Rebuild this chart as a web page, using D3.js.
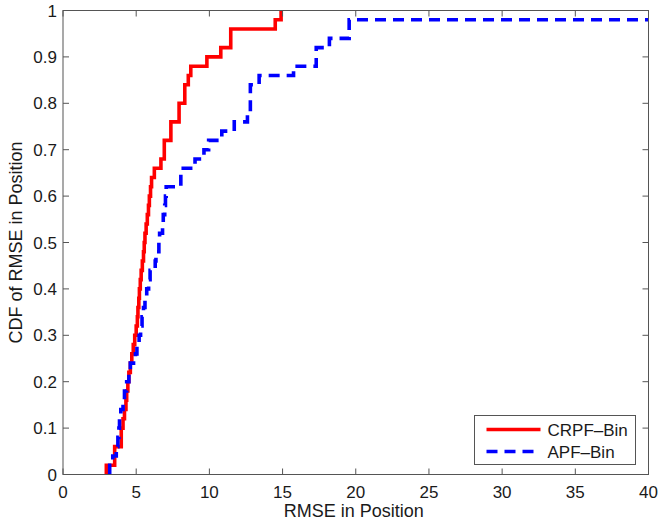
<!DOCTYPE html>
<html lang="en">
<head>
    <meta charset="UTF-8">
    <title>CDF of RMSE in Position</title>
    <script src="https://d3js.org/d3.v7.min.js"></script>
    <style>
        body { margin: 0; background: #fff; }
        text { font-family: "Liberation Sans", Arial, Helvetica, sans-serif; fill: #1a1a1a; }
        .frame line, .frame rect { stroke: #555; stroke-width: 1; }
    </style>
</head>
<body>
    <svg id="chart" width="658" height="522"></svg>

    <script>
        // step points of each empirical CDF (x = RMSE, p = cumulative fraction)
        const crpfX = [2.96, 3.53, 3.98, 4.1, 4.2, 4.3, 4.35, 4.43, 4.5, 4.6, 4.7, 4.8, 4.9, 5.0, 5.08,
                       5.12, 5.18, 5.22, 5.28, 5.34, 5.42, 5.5, 5.55, 5.6, 5.68, 5.76, 5.84, 5.9, 5.98, 6.05,
                       6.24, 6.69, 6.92, 7.37, 7.93, 8.32, 8.56, 8.73, 9.83, 10.78, 11.46, 14.5, 14.9];
        const crpfP = [0.02, 0.06, 0.10, 0.12, 0.14, 0.16, 0.18, 0.20, 0.22, 0.24, 0.26, 0.28, 0.30, 0.32, 0.34,
                       0.36, 0.38, 0.40, 0.42, 0.44, 0.46, 0.48, 0.50, 0.52, 0.54, 0.56, 0.58, 0.60, 0.62, 0.64,
                       0.66, 0.68, 0.72, 0.76, 0.80, 0.84, 0.86, 0.88, 0.90, 0.92, 0.96, 0.98, 1.00];

        const apfX = [3.19, 3.4, 3.64, 3.75, 3.82, 3.86, 3.95, 4.1, 4.2, 4.35, 4.5, 4.6, 4.95, 5.05, 5.2,
                      5.3, 5.4, 5.5, 5.6, 5.72, 5.85, 5.95, 6.3, 6.35, 6.55, 6.6, 6.8, 6.85, 6.95, 7.0,
                      7.05, 8.05, 9.02, 9.63, 9.95, 10.85, 11.7, 12.6, 12.8, 13.4, 15.75, 17.3, 18.2, 19.55, 40];
        const apfP = [0.02, 0.04, 0.06, 0.08, 0.10, 0.12, 0.14, 0.16, 0.18, 0.20, 0.22, 0.24, 0.26, 0.28, 0.30,
                      0.32, 0.34, 0.36, 0.38, 0.40, 0.42, 0.44, 0.46, 0.48, 0.50, 0.52, 0.54, 0.56, 0.58, 0.60,
                      0.62, 0.66, 0.68, 0.70, 0.72, 0.74, 0.76, 0.78, 0.84, 0.86, 0.88, 0.92, 0.94, 0.98, 0.98];

        const xTicks = [0, 5, 10, 15, 20, 25, 30, 35, 40];
        const yTicks = [0, 0.1, 0.2, 0.3, 0.4, 0.5, 0.6, 0.7, 0.8, 0.9, 1];

        const series = [
            { name: "CRPF\u2013Bin", xs: crpfX, ps: crpfP, color: "#ff0000", dash: null },
            { name: "APF\u2013Bin", xs: apfX, ps: apfP, color: "#0000ff", dash: "11,7" }
        ];

        const svg = d3.select("#chart");
        const plotL = 63, plotR = 648.5, plotT = 10.5, plotB = 474.5;

        const x = d3.scaleLinear().domain([0, 40]).range([plotL, plotR]);
        const y = d3.scaleLinear().domain([0, 1]).range([plotB, plotT]);

        // clip so the curves stay inside the box
        svg.append("defs").append("clipPath").attr("id", "clip")
            .append("rect")
            .attr("x", plotL).attr("y", plotT)
            .attr("width", plotR - plotL).attr("height", plotB - plotT);

        const line = d3.line()
            .x(d => x(d[0]))
            .y(d => y(d[1]))
            .curve(d3.curveStepAfter);

        const plot = svg.append("g").attr("clip-path", "url(#clip)");
        series.forEach(s => {
            const pts = [[s.xs[0], 0]].concat(s.xs.map((v, i) => [v, s.ps[i]]));
            plot.append("path")
                .attr("d", line(pts))
                .attr("fill", "none")
                .attr("stroke", s.color)
                .attr("stroke-width", 3.6)
                .attr("stroke-dasharray", s.dash);
        });

        // frame and ticks on all four sides (inward)
        const frame = svg.append("g").attr("class", "frame");
        frame.append("rect")
            .attr("x", plotL).attr("y", plotT)
            .attr("width", plotR - plotL).attr("height", plotB - plotT)
            .attr("fill", "none");

        const tickLen = 6;
        xTicks.forEach(t => {
            frame.append("line").attr("x1", x(t)).attr("x2", x(t)).attr("y1", plotB).attr("y2", plotB - tickLen);
            frame.append("line").attr("x1", x(t)).attr("x2", x(t)).attr("y1", plotT).attr("y2", plotT + tickLen);
            svg.append("text")
                .attr("x", x(t)).attr("y", plotB + 23)
                .attr("text-anchor", "middle")
                .style("font-size", "17px")
                .text(t);
        });
        yTicks.forEach(t => {
            frame.append("line").attr("x1", plotL).attr("x2", plotL + tickLen).attr("y1", y(t)).attr("y2", y(t));
            frame.append("line").attr("x1", plotR).attr("x2", plotR - tickLen).attr("y1", y(t)).attr("y2", y(t));
            svg.append("text")
                .attr("x", plotL - 6).attr("y", y(t) + 6)
                .attr("text-anchor", "end")
                .style("font-size", "17px")
                .text(t);
        });

        // axis titles
        svg.append("text")
            .attr("x", (plotL + plotR) / 2 - 2).attr("y", 517)
            .attr("text-anchor", "middle")
            .style("font-size", "18px")
            .text("RMSE in Position");

        svg.append("text")
            .attr("transform", `translate(22, ${(plotT + plotB) / 2}) rotate(-90)`)
            .attr("text-anchor", "middle")
            .style("font-size", "18px")
            .text("CDF of RMSE in Position");

        // legend
        const legend = svg.append("g").attr("transform", "translate(474.5, 415.5)");
        legend.append("rect")
            .attr("width", 161).attr("height", 49)
            .attr("fill", "#fff")
            .attr("stroke", "#555");

        series.forEach((s, i) => {
            const ly = 14 + i * 22;
            legend.append("line")
                .attr("x1", 12).attr("x2", 66)
                .attr("y1", ly).attr("y2", ly)
                .attr("stroke", s.color)
                .attr("stroke-width", 3.6)
                .attr("stroke-dasharray", s.dash);
            legend.append("text")
                .attr("x", 73).attr("y", ly + 6)
                .style("font-size", "17px")
                .text(s.name);
        });
    </script>
</body>
</html>
